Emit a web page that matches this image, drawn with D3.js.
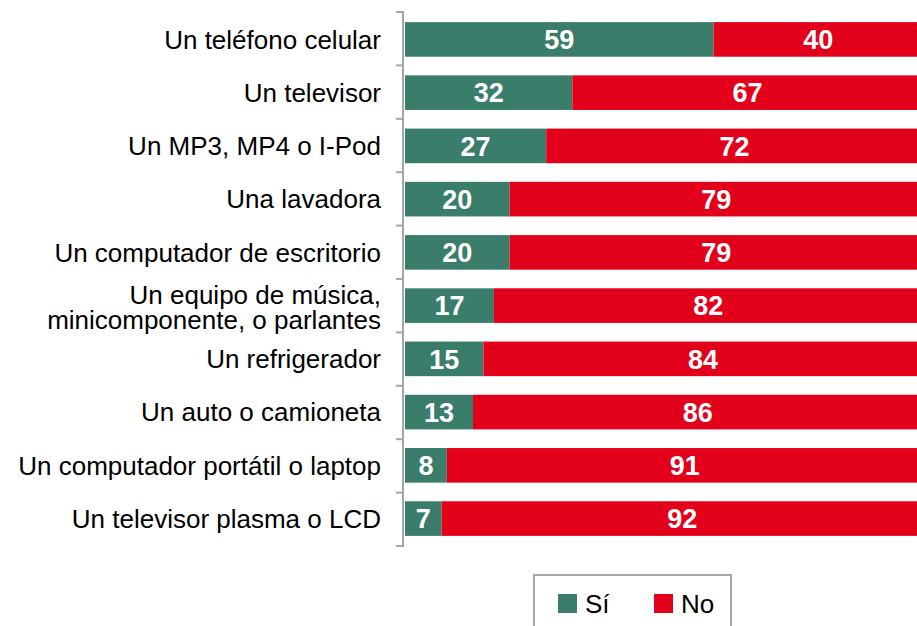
<!DOCTYPE html>
<html>
<head>
<meta charset="utf-8">
<script src="https://cdn.jsdelivr.net/npm/d3@7"></script>
<style>
  body { margin: 0; background: #fff; }
  svg { display: block; font-family: "Liberation Sans", Arial, sans-serif; }
</style>
</head>
<body>
<svg id="chart" width="917" height="626"></svg>
<script>
var categories = [
  ["Un teléfono celular"],
  ["Un televisor"],
  ["Un MP3, MP4 o I-Pod"],
  ["Una lavadora"],
  ["Un computador de escritorio"],
  ["Un equipo de música,", "minicomponente, o parlantes"],
  ["Un refrigerador"],
  ["Un auto o camioneta"],
  ["Un computador portátil o laptop"],
  ["Un televisor plasma o LCD"]
]
var si = [59, 32, 27, 20, 20, 17, 15, 13, 8, 7]
var no = [40, 67, 72, 79, 79, 82, 84, 86, 91, 92]
var seriesNames = ["Sí", "No"]

var colors = { "Sí": "#3a7d6b", "No": "#e2001a" }

var svg = d3.select("#chart")

var x = d3.scaleLinear()
    .domain([0, 100])
    .range([405, 928])

var y = d3.scaleBand()
    .domain(d3.range(categories.length))
    .range([12, 546])
    .paddingInner(0.35)
    .paddingOuter(0.19)

var rows = categories.map(function(c, i){
  return { i: i, label: c, si: si[i], no: no[i] }
})

var segs = []
rows.forEach(function(r){
  segs.push({ i: r.i, name: "Sí", x0: 0, x1: r.si })
  segs.push({ i: r.i, name: "No", x0: r.si, x1: r.si + r.no })
})

svg.selectAll("rect.seg")
    .data(segs)
  .enter().append("rect")
    .attr("class", "seg")
    .attr("x", function(d){ return x(d.x0) })
    .attr("width", function(d){ return x(d.x1) - x(d.x0) })
    .attr("y", function(d){ return y(d.i) })
    .attr("height", y.bandwidth())
    .attr("fill", function(d){ return colors[d.name] })

svg.selectAll("text.val")
    .data(segs)
  .enter().append("text")
    .attr("class", "val")
    .attr("x", function(d){ return (x(d.x0) + Math.min(x(d.x1), 925)) / 2 })
    .attr("y", function(d){ return y(d.i) + y.bandwidth() / 2 })
    .attr("dy", "0.36em")
    .attr("text-anchor", "middle")
    .attr("fill", "#fff")
    .attr("font-weight", "bold")
    .attr("font-size", 27)
    .text(function(d){ return d.x1 - d.x0 })

// category axis: line with ticks between bands
var step = 534 / categories.length
var axisG = svg.append("g").attr("stroke", "#a6a6a6").attr("stroke-width", 2)
axisG.append("line")
    .attr("x1", 403).attr("x2", 403)
    .attr("y1", 12).attr("y2", 546)
axisG.selectAll("line.tick")
    .data(d3.range(categories.length + 1))
  .enter().append("line")
    .attr("class", "tick")
    .attr("x1", 396).attr("x2", 404)
    .attr("y1", function(d){ return 12 + d * step })
    .attr("y2", function(d){ return 12 + d * step })

var labels = svg.selectAll("text.cat")
    .data(rows)
  .enter().append("text")
    .attr("class", "cat")
    .attr("text-anchor", "end")
    .attr("font-size", 26)
    .attr("fill", "#000")
    .attr("y", function(d){ return y(d.i) + y.bandwidth() / 2 })

var lineH = 25
labels.each(function(d){
  var t = d3.select(this)
  var n = d.label.length
  d.label.forEach(function(line, k){
    t.append("tspan")
      .attr("x", 381)
      .attr("dy", k == 0 ? (0.36 * 26 - (n - 1) * lineH / 2 + (n > 1 ? 2 : 0)) + "px" : lineH + "px")
      .text(line)
  })
})

// legend
var legend = svg.append("g")
legend.append("rect")
    .attr("x", 534).attr("y", 575)
    .attr("width", 197).attr("height", 70)
    .attr("fill", "none")
    .attr("stroke", "#a6a6a6")
    .attr("stroke-width", 2)

var legX = [558, 654]
seriesNames.forEach(function(name, k){
  legend.append("rect")
      .attr("x", legX[k]).attr("y", 594)
      .attr("width", 19).attr("height", 19)
      .attr("fill", colors[name])
  legend.append("text")
      .attr("x", legX[k] + 27).attr("y", 613)
      .attr("font-size", 26)
      .attr("fill", "#000")
      .text(name)
})
</script>
</body>
</html>
